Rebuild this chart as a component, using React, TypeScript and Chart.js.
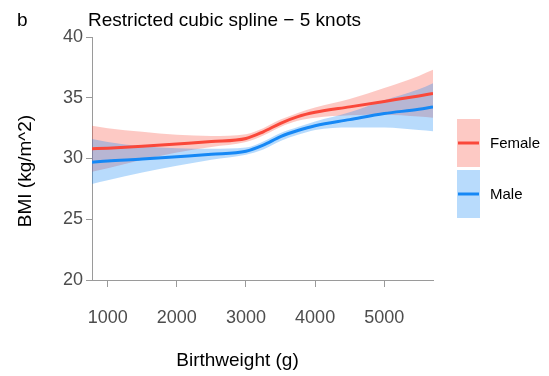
import React, { useEffect, useRef } from 'react';
import { Chart, registerables } from 'chart.js';

Chart.register(...registerables);

const birthweight = [773, 1000, 1500, 2000, 2500, 3000, 3250, 3500, 3750, 4000, 4500, 5000, 5500, 5705];
const femaleBMI = [30.8, 30.85, 31.0, 31.2, 31.4, 31.65, 32.2, 32.9, 33.45, 33.8, 34.25, 34.7, 35.15, 35.35];
const femaleLower = [28.9, 29.2, 29.9, 30.5, 30.95, 31.35, 31.9, 32.6, 33.1, 33.35, 33.55, 33.6, 33.45, 33.35];
const femaleUpper = [32.7, 32.5, 32.2, 31.95, 31.85, 32.0, 32.5, 33.2, 33.75, 34.2, 34.9, 35.8, 36.8, 37.3];
const maleBMI = [29.7, 29.8, 29.95, 30.15, 30.35, 30.6, 31.1, 31.8, 32.3, 32.7, 33.2, 33.7, 34.05, 34.25];
const maleLower = [27.9, 28.2, 28.85, 29.4, 29.9, 30.3, 30.75, 31.45, 31.95, 32.35, 32.55, 32.55, 32.35, 32.25];
const maleUpper = [31.6, 31.35, 31.0, 30.85, 30.8, 30.9, 31.4, 32.1, 32.6, 33.05, 33.8, 34.8, 35.7, 36.2];

const xTicks = [1000, 2000, 3000, 4000, 5000];
const yTicks = [20, 25, 30, 35, 40];

const seriesNames = ['Female', 'Male'];
const titleLetter = 'b';
const titleText = 'Restricted cubic spline \u2212 5 knots';
const xTitle = 'Birthweight (g)';
const yTitle = 'BMI (kg/m^2)';

const FONT = '"Liberation Sans", Arial, sans-serif';
const RED = 'rgb(250,72,58)';
const BLUE = 'rgb(22,136,245)';
const RED_FILL = 'rgba(250,75,60,0.3)';
const BLUE_FILL = 'rgba(20,135,245,0.3)';
const AXIS = '#9a9a9a';

const pts = (ys: number[]) => ys.map((y, i) => ({ x: birthweight[i], y }));

const textPlugin = {
  id: 'textPlugin',
  afterDraw(chart: any) {
    const ctx = chart.ctx;
    const area = chart.chartArea;
    ctx.save();
    ctx.fillStyle = '#000';
    ctx.font = `19px ${FONT}`;
    ctx.textBaseline = 'alphabetic';
    ctx.textAlign = 'left';
    ctx.fillText(titleLetter, 17, 26);
    ctx.fillText(titleText, 88, 26);
    ctx.textAlign = 'center';
    ctx.fillText(xTitle, 237.5, 366);
    ctx.save();
    ctx.translate(31, 171);
    ctx.rotate(-Math.PI / 2);
    ctx.fillText(yTitle, 0, 0);
    ctx.restore();

    // legend
    const lx = area.right + 24;
    const boxes = [
      { name: seriesNames[0], fill: RED_FILL, line: RED, top: 119 },
      { name: seriesNames[1], fill: BLUE_FILL, line: BLUE, top: 170 },
    ];
    ctx.font = `15px ${FONT}`;
    ctx.textAlign = 'left';
    ctx.textBaseline = 'middle';
    for (const b of boxes) {
      ctx.fillStyle = b.fill;
      ctx.fillRect(lx, b.top, 23, 48);
      ctx.strokeStyle = b.line;
      ctx.lineWidth = 3;
      ctx.beginPath();
      ctx.moveTo(lx + 1, b.top + 24);
      ctx.lineTo(lx + 22, b.top + 24);
      ctx.stroke();
      ctx.fillStyle = '#000';
      ctx.fillText(b.name, lx + 33, b.top + 25);
    }
    ctx.restore();
  },
};

export default function App() {
  const ref = useRef<HTMLCanvasElement | null>(null);
  useEffect(() => {
    document.body.style.margin = '0';
    const canvas = ref.current!;
    const chart = new Chart(canvas, {
      type: 'line',
      data: {
        datasets: [
          { label: seriesNames[0], data: pts(femaleBMI), borderColor: RED, borderWidth: 3, pointRadius: 0, fill: false, cubicInterpolationMode: 'monotone' },
          { label: seriesNames[1], data: pts(maleBMI), borderColor: BLUE, borderWidth: 3, pointRadius: 0, fill: false, cubicInterpolationMode: 'monotone' },
          { label: 'male upper', data: pts(maleUpper), borderWidth: 0, borderColor: 'rgba(0,0,0,0)', backgroundColor: BLUE_FILL, pointRadius: 0, fill: 3, cubicInterpolationMode: 'monotone' },
          { label: 'male lower', data: pts(maleLower), borderWidth: 0, borderColor: 'rgba(0,0,0,0)', pointRadius: 0, fill: false, cubicInterpolationMode: 'monotone' },
          { label: 'female upper', data: pts(femaleUpper), borderWidth: 0, borderColor: 'rgba(0,0,0,0)', backgroundColor: RED_FILL, pointRadius: 0, fill: 5, cubicInterpolationMode: 'monotone' },
          { label: 'female lower', data: pts(femaleLower), borderWidth: 0, borderColor: 'rgba(0,0,0,0)', pointRadius: 0, fill: false, cubicInterpolationMode: 'monotone' },
        ] as any,
      },
      options: {
        animation: false,
        responsive: false,
        devicePixelRatio: 1,
        layout: { padding: { top: 37, right: 116, left: 0, bottom: 0 } },
        plugins: { legend: { display: false }, tooltip: { enabled: false }, title: { display: false } },
        scales: {
          x: {
            type: 'linear',
            min: 773,
            max: 5705,
            afterFit: (s: any) => { s.height = 96; },
            afterBuildTicks: (s: any) => { s.ticks = xTicks.map((v) => ({ value: v })); },
            ticks: { font: { size: 18, family: FONT }, color: '#4d4d4d', padding: 20, autoSkip: false, maxRotation: 0, callback: (v: any) => String(v) },
            grid: { display: true, drawOnChartArea: false, drawTicks: true, tickLength: 7, color: AXIS, lineWidth: 1 },
            border: { display: true, color: AXIS, width: 1 },
          },
          y: {
            type: 'linear',
            min: 20,
            max: 40,
            afterFit: (s: any) => { s.width = 92; },
            afterBuildTicks: (s: any) => { s.ticks = yTicks.map((v) => ({ value: v })); },
            ticks: { font: { size: 18, family: FONT }, color: '#4d4d4d', padding: 3, autoSkip: false, callback: (v: any) => String(v) },
            grid: { display: true, drawOnChartArea: false, drawTicks: true, tickLength: 6, color: AXIS, lineWidth: 1 },
            border: { display: true, color: AXIS, width: 1 },
          },
        },
      } as any,
      plugins: [textPlugin],
    });
    return () => chart.destroy();
  }, []);
  return (
    <div style={{ width: 549, height: 376, background: '#fff' }}>
      <canvas ref={ref} width={549} height={376} style={{ display: 'block' }} />
    </div>
  );
}
